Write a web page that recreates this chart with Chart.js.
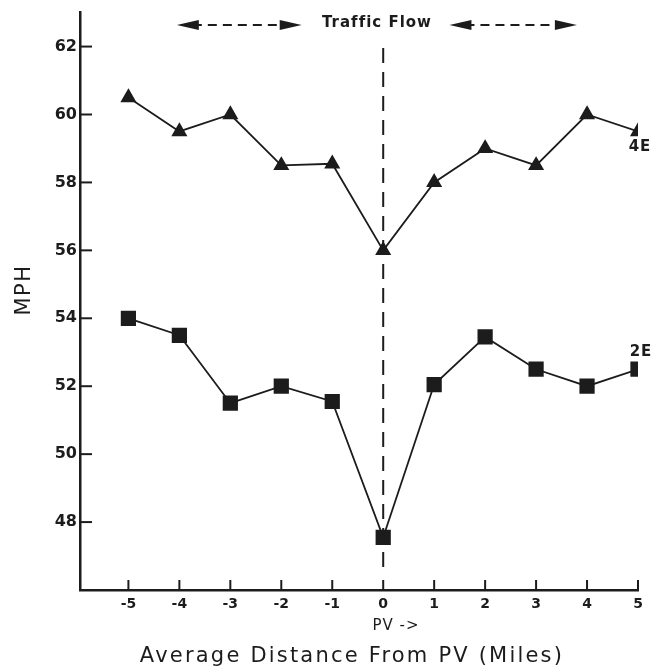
<!DOCTYPE html>
<html>
<head>
<meta charset="utf-8">
<script src="https://cdn.jsdelivr.net/npm/chart.js@4.4.1/dist/chart.umd.min.js"></script>
<style>
  html, body { margin: 0; padding: 0; background: #fff; }
  #wrap { width: 660px; height: 671px; position: relative; }
</style>
</head>
<body>
<div id="wrap"><canvas id="speedChart"></canvas></div>
<script>
const distances = [-5, -4, -3, -2, -1, 0, 1, 2, 3, 4, 5];
const speeds4E = [60.5, 59.5, 60.0, 58.5, 58.55, 56.0, 58.0, 59.0, 58.5, 60.0, 59.5];
const speeds2E = [54.0, 53.5, 51.5, 52.0, 51.55, 47.55, 52.05, 53.45, 52.5, 52.0, 52.5];
const yTickValues = [48, 50, 52, 54, 56, 58, 60, 62];
const xTickValues = [-5, -4, -3, -2, -1, 0, 1, 2, 3, 4, 5];

const ink = '#1c1c1c';

// inward ticks, PV dashed line, arrows and free text
const annotations = {
    id: 'annotations',
    afterDraw(chart) {
        const { ctx, chartArea, scales } = chart;
        const x = scales.x;
        const y = scales.y;
        ctx.save();
        ctx.strokeStyle = ink;
        ctx.fillStyle = ink;

        // tick marks pointing into the plot
        ctx.lineWidth = 2;
        yTickValues.forEach(v => {
            const py = y.getPixelForValue(v);
            ctx.beginPath();
            ctx.moveTo(chartArea.left, py);
            ctx.lineTo(chartArea.left + 12, py);
            ctx.stroke();
        });
        xTickValues.forEach(v => {
            const px = x.getPixelForValue(v);
            ctx.beginPath();
            ctx.moveTo(px, chartArea.bottom);
            ctx.lineTo(px, chartArea.bottom - 10);
            ctx.stroke();
        });

        // dashed PV line at 0
        const x0 = x.getPixelForValue(0);
        ctx.lineWidth = 2;
        ctx.setLineDash([15, 9]);
        ctx.beginPath();
        ctx.moveTo(x0, 48);
        ctx.lineTo(x0, chartArea.bottom - 22);
        ctx.stroke();

        // traffic flow arrows
        const drawArrow = (from, to, yy) => {
            const a = x.getPixelForValue(from);
            const b = x.getPixelForValue(to);
            ctx.setLineDash([9, 6]);
            ctx.lineWidth = 2;
            ctx.beginPath();
            ctx.moveTo(a + 16, yy);
            ctx.lineTo(b - 16, yy);
            ctx.stroke();
            ctx.setLineDash([]);
            ctx.beginPath();
            ctx.moveTo(a, yy);
            ctx.lineTo(a + 22, yy - 5);
            ctx.lineTo(a + 22, yy + 5);
            ctx.closePath();
            ctx.fill();
            ctx.beginPath();
            ctx.moveTo(b, yy);
            ctx.lineTo(b - 22, yy - 5);
            ctx.lineTo(b - 22, yy + 5);
            ctx.closePath();
            ctx.fill();
        };
        drawArrow(-4.05, -1.6, 25);
        drawArrow(1.3, 3.8, 25);
        ctx.setLineDash([]);

        ctx.textAlign = 'center';
        ctx.textBaseline = 'middle';
        ctx.font = 'bold 15px "DejaVu Sans"';
        ctx.letterSpacing = '1px';
        ctx.fillText('Traffic Flow', 377, 23);

        // series labels
        ctx.font = 'bold 15px "DejaVu Sans"';
        ctx.fillText('4E', 640, 147);
        ctx.fillText('2E', 641, 352);

        // axis titles
        ctx.font = '15px "DejaVu Sans"';
        ctx.fillText('PV ->', 396, 626);
        ctx.font = '21px "DejaVu Sans"';
        ctx.letterSpacing = '2.2px';
        ctx.fillText('Average Distance From PV (Miles)', 352, 657);

        ctx.translate(25, 290);
        ctx.rotate(-Math.PI / 2);
        ctx.letterSpacing = '1.5px';
        ctx.font = '21px "DejaVu Sans"';
        ctx.fillText('MPH', 0, 0);
        ctx.restore();
    }
};

new Chart(document.getElementById('speedChart'), {
    type: 'line',
    data: {
        datasets: [
            {
                label: '4E',
                data: distances.map((d, i) => ({ x: d, y: speeds4E[i] })),
                borderColor: ink,
                backgroundColor: ink,
                borderWidth: 1.8,
                pointStyle: 'triangle',
                pointRadius: 7.5,
                pointBackgroundColor: ink,
                pointBorderColor: ink,
                tension: 0,
            },
            {
                label: '2E',
                data: distances.map((d, i) => ({ x: d, y: speeds2E[i] })),
                borderColor: ink,
                backgroundColor: ink,
                borderWidth: 1.8,
                pointStyle: 'rect',
                pointRadius: 9.5,
                pointBackgroundColor: ink,
                pointBorderColor: ink,
                tension: 0,
            },
        ],
    },
    options: {
        responsive: true,
        maintainAspectRatio: false,
        animation: false,
        layout: {
            padding: { top: 9, right: 22, left: 0, bottom: 0 },
        },
        plugins: {
            legend: { display: false },
            tooltip: { enabled: false },
        },
        scales: {
            x: {
                type: 'linear',
                min: -5.95,
                max: 5,
                afterBuildTicks: scale => {
                    scale.ticks = xTickValues.map(v => ({ value: v }));
                },
                afterFit: scale => { scale.height = 81; },
                grid: { display: false, drawTicks: false },
                border: { display: true, color: ink, width: 2.5 },
                ticks: {
                    color: ink,
                    padding: 6,
                    maxRotation: 0,
                    font: { family: 'DejaVu Sans', size: 14, weight: 'bold' },
                },
            },
            y: {
                min: 46,
                max: 63,
                afterBuildTicks: scale => {
                    scale.ticks = yTickValues.map(v => ({ value: v }));
                },
                afterFit: scale => { scale.width = 80; },
                grid: { display: false, drawTicks: false },
                border: { display: true, color: ink, width: 2.5 },
                ticks: {
                    color: ink,
                    padding: 3,
                    font: { family: 'DejaVu Sans', size: 16, weight: 'bold' },
                },
            },
        },
    },
    plugins: [annotations],
});
</script>
</body>
</html>
